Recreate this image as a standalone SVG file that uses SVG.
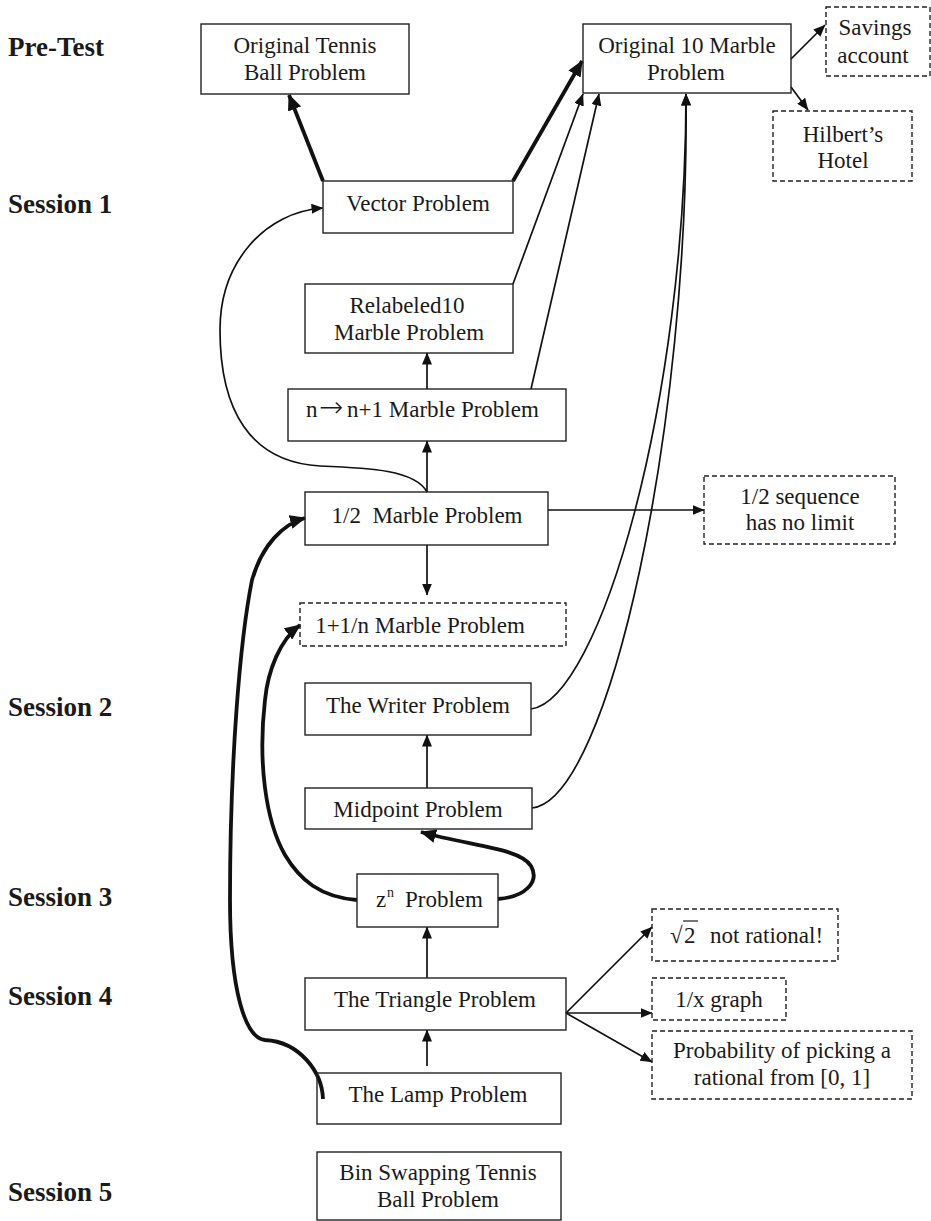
<svg xmlns="http://www.w3.org/2000/svg" width="931" height="1221" viewBox="0 0 931 1221">
<style>
.bx{fill:none;stroke:#222;stroke-width:1.4}
.ds{fill:none;stroke:#222;stroke-width:1.4;stroke-dasharray:5,3}
.t{font-family:"Liberation Serif","Times New Roman",serif;font-size:23px;fill:#1a1a1a;text-anchor:middle}
.s{font-family:"Liberation Serif","Times New Roman",serif;font-size:27px;font-weight:bold;fill:#1a1a1a}
.th{fill:none;stroke:#111;stroke-width:1.7}
.tk{fill:none;stroke:#111;stroke-width:3.8}
</style>
<defs>
<marker id="ah" viewBox="0 0 12 10" refX="11.5" refY="5" markerWidth="12" markerHeight="10" markerUnits="userSpaceOnUse" orient="auto"><path d="M0,0 L12,5 L0,10 z" fill="#111"/></marker>
<marker id="ak" viewBox="0 0 16 14" refX="15" refY="7" markerWidth="16" markerHeight="14" markerUnits="userSpaceOnUse" orient="auto"><path d="M0,0 L16,7 L0,14 z" fill="#111"/></marker>
</defs>
<rect width="931" height="1221" fill="#fff"/>

<g id="labels">
<text class="s" x="8" y="56">Pre-Test</text>
<text class="s" x="8" y="213">Session 1</text>
<text class="s" x="8" y="716">Session 2</text>
<text class="s" x="8" y="906">Session 3</text>
<text class="s" x="8" y="1005">Session 4</text>
<text class="s" x="8" y="1201">Session 5</text>
</g>

<g id="connectors">
<line class="tk" x1="323" y1="181" x2="289" y2="95" marker-end="url(#ak)"/>
<line class="tk" x1="513" y1="181" x2="582" y2="61" marker-end="url(#ak)"/>
<line class="th" x1="513" y1="284" x2="583" y2="94" marker-end="url(#ah)"/>
<line class="th" x1="531" y1="389" x2="599" y2="94" marker-end="url(#ah)"/>
<path class="th" d="M531,709 C600,700 686,400 686,94" marker-end="url(#ah)"/>
<path class="th" d="M532,808 C610,800 690,420 686,94" marker-end="url(#ah)"/>
<line class="th" x1="791" y1="59" x2="825" y2="25" marker-end="url(#ah)"/>
<line class="th" x1="791" y1="87" x2="808" y2="110" marker-end="url(#ah)"/>
<line class="th" x1="427" y1="389" x2="427" y2="353" marker-end="url(#ah)"/>
<line class="th" x1="427" y1="492" x2="427" y2="441" marker-end="url(#ah)"/>
<path class="th" d="M427,492 C415,470 370,468 320,466 C250,462 220,410 220,330 C220,262 265,212 323,208" marker-end="url(#ah)"/>
<line class="th" x1="427" y1="545" x2="427" y2="595" marker-end="url(#ah)"/>
<line class="th" x1="548" y1="510" x2="704" y2="510" marker-end="url(#ah)"/>
<line class="th" x1="427" y1="788" x2="427" y2="735" marker-end="url(#ah)"/>
<path class="tk" d="M498,899 C525,897 540,882 531,866 C520,848 470,846 421,832" marker-end="url(#ak)"/>
<path class="tk" d="M357,900 C320,897 300,880 285,855 C265,820 258,760 265,700 C268,670 280,640 300,625" marker-end="url(#ak)"/>
<path class="tk" d="M323,1099 C322,1072 300,1042 265,1040 C245,1038 230,990 230,900 C230,760 240,640 252,580 C262,545 283,524 305,518" marker-end="url(#ak)"/>
<line class="th" x1="427" y1="978" x2="427" y2="927" marker-end="url(#ah)"/>
<line class="th" x1="427" y1="1066" x2="427" y2="1030" marker-end="url(#ah)"/>
<line class="th" x1="566" y1="1013" x2="652" y2="927" marker-end="url(#ah)"/>
<line class="th" x1="566" y1="1013" x2="652" y2="1013" marker-end="url(#ah)"/>
<line class="th" x1="566" y1="1013" x2="652" y2="1062" marker-end="url(#ah)"/>
</g>

<g id="n-tennis"><rect class="bx" x="201" y="24" width="208" height="70"/><text class="t" x="305" y="53">Original Tennis</text><text class="t" x="305" y="80">Ball Problem</text></g>
<g id="n-marble10"><rect class="bx" x="583" y="24" width="208" height="69"/><text class="t" x="687" y="53">Original 10 Marble</text><text class="t" x="686" y="80">Problem</text></g>
<g id="n-savings"><rect class="ds" x="826" y="7" width="104" height="69"/><text class="t" x="875" y="35">Savings</text><text class="t" x="873" y="63">account</text></g>
<g id="n-hilbert"><rect class="ds" x="773" y="111" width="139" height="70"/><text class="t" x="843" y="142">Hilbert’s</text><text class="t" x="843" y="168">Hotel</text></g>
<g id="n-vector"><rect class="bx" x="323" y="181" width="190" height="52"/><text class="t" x="418" y="211">Vector Problem</text></g>
<g id="n-relabeled"><rect class="bx" x="305" y="284" width="208" height="69"/><text class="t" x="407" y="313">Relabeled10</text><text class="t" x="409" y="340">Marble Problem</text></g>
<g id="n-nn1"><rect class="bx" x="288" y="389" width="278" height="52"/><text class="t" style="text-anchor:start"><tspan x="306" y="417">n</tspan><tspan x="319" y="417" style="font-family:'DejaVu Sans',sans-serif;font-size:29px;font-weight:200">→</tspan><tspan x="347" y="417">n+1 Marble Problem</tspan></text></g>
<g id="n-half"><rect class="bx" x="305" y="492" width="243" height="53"/><text class="t" x="427" y="523">1/2&#160; Marble Problem</text></g>
<g id="n-seq"><rect class="ds" x="704" y="476" width="191" height="68"/><text class="t" x="800" y="504">1/2 sequence</text><text class="t" x="800" y="530">has no limit</text></g>
<g id="n-1n"><rect class="ds" x="300" y="603" width="266" height="43"/><text class="t" x="420" y="633">1+1/n Marble Problem</text></g>
<g id="n-writer"><rect class="bx" x="305" y="683" width="226" height="52"/><text class="t" x="418" y="713">The Writer Problem</text></g>
<g id="n-midpoint"><rect class="bx" x="305" y="788" width="227" height="41"/><text class="t" x="418" y="817">Midpoint Problem</text></g>
<g id="n-zn"><rect class="bx" x="357" y="874" width="141" height="53"/><text class="t" style="text-anchor:start"><tspan x="376" y="907">z</tspan><tspan x="387" y="897" style="font-size:14px">n</tspan><tspan x="405" y="907">Problem</tspan></text></g>
<g id="n-triangle"><rect class="bx" x="305" y="978" width="261" height="52"/><text class="t" x="435" y="1007">The Triangle Problem</text></g>
<g id="n-lamp"><rect class="bx" x="317" y="1073" width="244" height="51"/><text class="t" x="438" y="1102">The Lamp Problem</text></g>
<g id="n-bin"><rect class="bx" x="317" y="1152" width="244" height="68"/><text class="t" x="438" y="1180">Bin Swapping Tennis</text><text class="t" x="438" y="1207">Ball Problem</text></g>
<g id="n-sqrt2"><rect class="ds" x="652" y="909" width="186" height="52"/><text class="t" style="text-anchor:start"><tspan x="670" y="943">√</tspan><tspan x="684" y="943">2</tspan><tspan x="710" y="943">not rational!</tspan></text><line x1="683" y1="921" x2="698" y2="921" stroke="#1a1a1a" stroke-width="1.2"/></g>
<g id="n-1x"><rect class="ds" x="652" y="978" width="134" height="42"/><text class="t" x="719" y="1007">1/x graph</text></g>
<g id="n-prob"><rect class="ds" x="652" y="1031" width="260" height="68"/><text class="t" x="782" y="1058">Probability of picking a</text><text class="t" x="782" y="1085">rational from [0, 1]</text></g>
</svg>
